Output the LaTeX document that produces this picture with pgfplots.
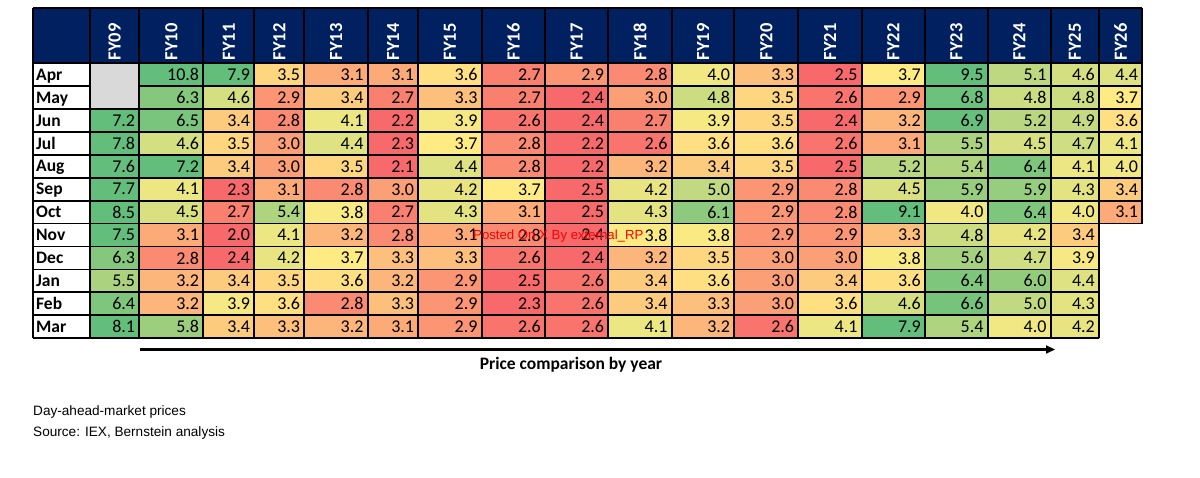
\documentclass[border=0pt]{standalone}
\usepackage{pgfplots}
\pgfplotsset{compat=1.18}
\usepackage{pgfplotstable}
\usepackage{fontspec}
\setmainfont{Carlito}
\newfontfamily\footfont{Liberation Sans}
\usetikzlibrary{arrows.meta}

\newcommand\numfont{\fontsize{18}{20}\selectfont}
\newcommand\monfont{\fontsize{17.5}{20}\selectfont\bfseries}
\newcommand\hdrfont{\fontsize{18.5}{20}\selectfont\bfseries}
\definecolor{hdr}{RGB}{0,32,96}
\definecolor{blank}{RGB}{217,217,217}
\tikzset{grid line/.style={line width=1.7pt}}

% day-ahead prices, month x fiscal year
\pgfplotstableread{
m   FY09 FY10 FY11 FY12 FY13 FY14 FY15 FY16 FY17 FY18 FY19 FY20 FY21 FY22 FY23 FY24 FY25 FY26
Apr nan  10.8 7.9  3.5  3.1  3.1  3.6  2.7  2.9  2.8  4.0  3.3  2.5  3.7  9.5  5.1  4.6  4.4
May nan  6.3  4.6  2.9  3.4  2.7  3.3  2.7  2.4  3.0  4.8  3.5  2.6  2.9  6.8  4.8  4.8  3.7
Jun 7.2  6.5  3.4  2.8  4.1  2.2  3.9  2.6  2.4  2.7  3.9  3.5  2.4  3.2  6.9  5.2  4.9  3.6
Jul 7.8  4.6  3.5  3.0  4.4  2.3  3.7  2.8  2.2  2.6  3.6  3.6  2.6  3.1  5.5  4.5  4.7  4.1
Aug 7.6  7.2  3.4  3.0  3.5  2.1  4.4  2.8  2.2  3.2  3.4  3.5  2.5  5.2  5.4  6.4  4.1  4.0
Sep 7.7  4.1  2.3  3.1  2.8  3.0  4.2  3.7  2.5  4.2  5.0  2.9  2.8  4.5  5.9  5.9  4.3  3.4
Oct 8.5  4.5  2.7  5.4  3.8  2.7  4.3  3.1  2.5  4.3  6.1  2.9  2.8  9.1  4.0  6.4  4.0  3.1
Nov 7.5  3.1  2.0  4.1  3.2  2.8  3.1  2.8  2.4  3.8  3.8  2.9  2.9  3.3  4.8  4.2  3.4  nan
Dec 6.3  2.8  2.4  4.2  3.7  3.3  3.3  2.6  2.4  3.2  3.5  3.0  3.0  3.8  5.6  4.7  3.9  nan
Jan 5.5  3.2  3.4  3.5  3.6  3.2  2.9  2.5  2.6  3.4  3.6  3.0  3.4  3.6  6.4  6.0  4.4  nan
Feb 6.4  3.2  3.9  3.6  2.8  3.3  2.9  2.3  2.6  3.4  3.3  3.0  3.6  4.6  6.6  5.0  4.3  nan
Mar 8.1  5.8  3.4  3.3  3.2  3.1  2.9  2.6  2.6  4.1  3.2  2.6  4.1  7.9  5.4  4.0  4.2  nan
}\prices

\begin{document}
\begin{tikzpicture}
\begin{axis}[
    set layers,
    width=1200pt, height=477pt, scale only axis, hide axis, clip=false,
    xmin=0, xmax=1200, ymin=0, ymax=477, y dir=reverse,
    point meta min=1.9, point meta max=11.2,
    % red-yellow-green scale, one entry every 0.3 from 1.9
    colormap={excel}{
        rgb255=(248,105,107) rgb255=(248,105,107) rgb255=(248,105,107)
        rgb255=(250,138,113) rgb255=(252,170,120) rgb255=(253,203,126)
        rgb255=(255,235,132) rgb255=(241,231,131) rgb255=(227,227,130)
        rgb255=(212,223,130) rgb255=(198,219,129) rgb255=(184,215,128)
        rgb255=(170,210,127) rgb255=(156,206,126) rgb255=(142,202,125)
        rgb255=(127,198,125) rgb255=(113,194,124) rgb255=(99,190,123)
        rgb255=(99,190,123) rgb255=(99,190,123) rgb255=(99,190,123)
        rgb255=(99,190,123) rgb255=(99,190,123) rgb255=(99,190,123)
        rgb255=(99,190,123) rgb255=(99,190,123) rgb255=(99,190,123)
        rgb255=(99,190,123) rgb255=(99,190,123) rgb255=(99,190,123)
        rgb255=(99,190,123) rgb255=(99,190,123)},
    /pgf/number format/assume math mode=true]
\path (axis cs:0,0) rectangle (axis cs:1200,477);
\fill[hdr] (axis cs:33.3,8.3) rectangle (axis cs:1142.3,63.3);
\fill[blank] (axis cs:90,63.3) rectangle (axis cs:139.3,109.1);

\foreach \c/\xl/\xr in {FY09/90/139.3, FY10/139.3/203.3, FY11/203.3/254.3,
    FY12/254.3/304.3, FY13/304.3/367.7, FY14/367.7/418.3, FY15/418.3/481.7,
    FY16/481.7/545, FY17/545/608.3, FY18/608.3/671.7, FY19/671.7/734.3,
    FY20/734.3/798.3, FY21/798.3/861.7, FY22/861.7/925, FY23/925/987.7,
    FY24/987.7/1050.7, FY25/1050.7/1099, FY26/1099/1142.3}{
  \pgfmathsetmacro\xc{(\xl+\xr)/2}
  \pgfmathsetmacro\w{\xr-\xl}
  \pgfmathsetmacro\sh{\w/2-4}
  % coloured cells
  \edef\tmp{\noexpand\addplot[scatter, only marks, mark=square*, mark size=0.5pt,
      mark options={xscale=\w, yscale=22.9, line width=0pt},
      scatter/use mapped color={draw=mapped color, fill=mapped color},
      point meta=explicit]
    table[x expr=\xc, y expr={\noexpand\thisrow{\c}*0+\noexpand\coordindex*22.9+74.75}, meta=\c] {\noexpand\prices};}
  \tmp
  % values
  \edef\tmp{\noexpand\addplot[scatter, only marks, mark=text, text mark={},
      point meta=explicit,
      nodes near coords={\noexpand\pgfmathprintnumber[fixed,fixed zerofill,precision=1]{\noexpand\pgfplotspointmeta}},
      every node near coord/.style={anchor=east, xshift=\sh pt, inner sep=0pt, text=black, font=\noexpand\numfont}]
    table[x expr=\xc, y expr={\noexpand\thisrow{\c}*0+\noexpand\coordindex*22.9+74.75}, meta=\c] {\noexpand\prices};}
  \tmp
  \edef\tmp{\noexpand\node[rotate=90, anchor=west, inner sep=0pt, text=white, font=\noexpand\hdrfont] at (axis cs:\xc,60.5) {\c};}
  \tmp
}

\foreach \m [count=\i from 0] in {Apr,May,Jun,Jul,Aug,Sep,Oct,Nov,Dec,Jan,Feb,Mar}{
  \pgfmathsetmacro\yb{63.3+\i*22.9+11.45+5.6}
  \edef\tmp{\noexpand\node[anchor=base west, inner sep=0pt, font=\noexpand\monfont] at (axis cs:36,\yb) {\m};}
  \tmp
}

\begin{pgfonlayer}{axis foreground}
% grid
\draw[grid line] (axis cs:33.3,8.3) -- (axis cs:1142.3,8.3);
\draw[grid line] (axis cs:33.3,63.3) -- (axis cs:1142.3,63.3);
\draw[grid line] (axis cs:33.3,86.2) -- (axis cs:90,86.2);
\draw[grid line] (axis cs:139.3,86.2) -- (axis cs:1142.3,86.2);
\pgfplotsinvokeforeach{2,...,7}{
  \draw[grid line] (axis cs:33.3,{63.3+#1*22.9}) -- (axis cs:1142.3,{63.3+#1*22.9});
}
\pgfplotsinvokeforeach{8,...,12}{
  \draw[grid line] (axis cs:33.3,{63.3+#1*22.9}) -- (axis cs:1099,{63.3+#1*22.9});
}
\pgfplotsinvokeforeach{33.3,90,139.3,203.3,254.3,304.3,367.7,418.3,481.7,545,608.3,671.7,734.3,798.3,861.7,925,987.7,1050.7,1099}{
  \draw[grid line] (axis cs:#1,8.3) -- (axis cs:#1,338.1);
}
\draw[grid line] (axis cs:1142.3,8.3) -- (axis cs:1142.3,223.6);
\node[anchor=base west, inner sep=0pt, text=red, font=\footfont\fontsize{13.2}{15}\selectfont] at (axis cs:473,240) {Posted On X By external\_RP};
\end{pgfonlayer}

\draw[line width=2.2pt, -{Triangle[length=9pt,width=8pt]}] (axis cs:140,349.5) -- (axis cs:1055,349.5);
\node[anchor=base, inner sep=0pt, font=\fontsize{17.5}{20}\selectfont\bfseries] at (axis cs:571,370) {Price comparison by year};
\node[anchor=base west, inner sep=0pt, font=\footfont\fontsize{13.6}{16}\selectfont] at (axis cs:33,415) {Day-ahead-market prices};
\node[anchor=base west, inner sep=0pt, font=\footfont\fontsize{13.6}{16}\selectfont] at (axis cs:33,436) {Source: IEX, Bernstein analysis};
\end{axis}
\end{tikzpicture}
\end{document}
